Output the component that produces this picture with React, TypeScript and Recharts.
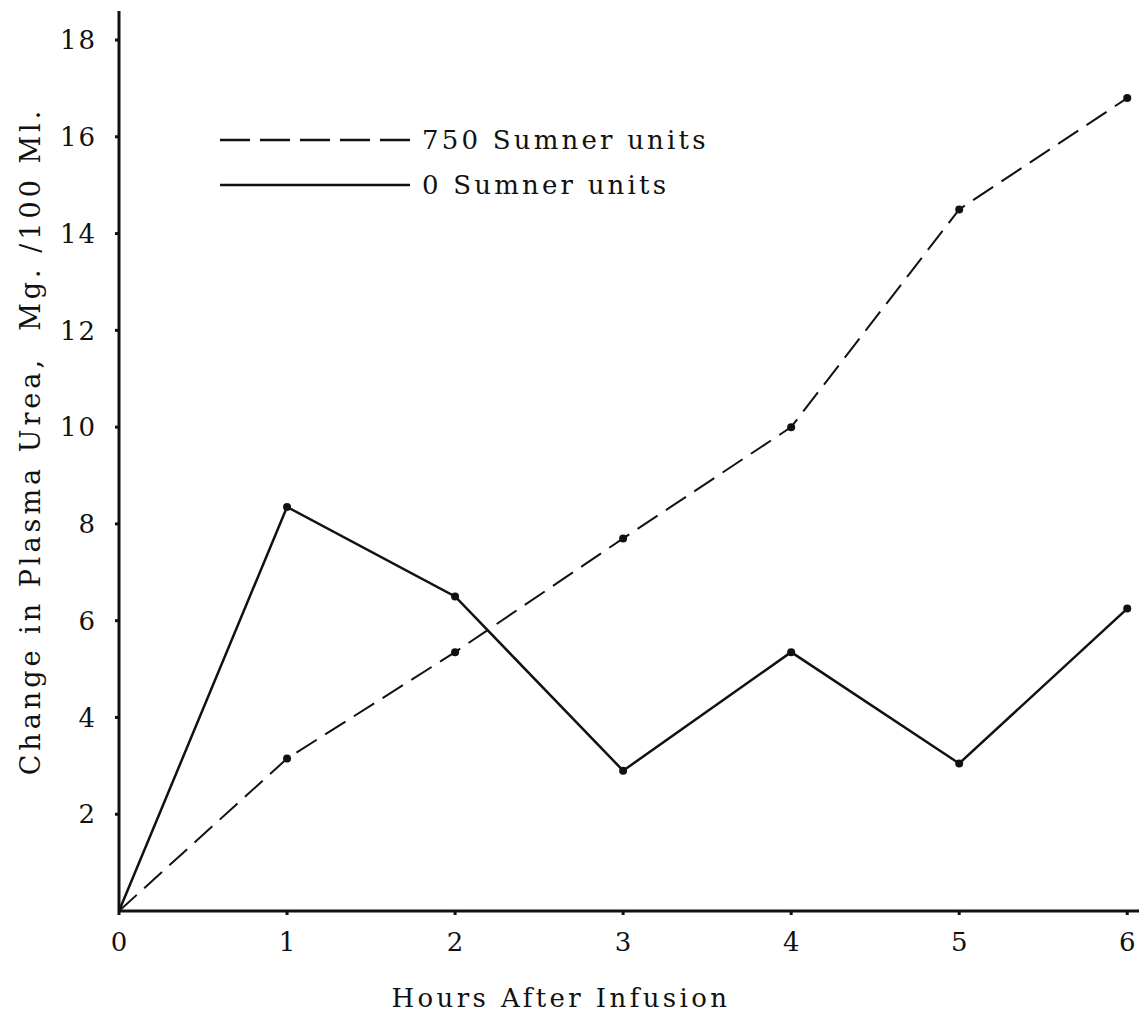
import React from 'react';
import { LineChart, Line, XAxis, YAxis, Legend, Label } from 'recharts';

const hours = [0, 1, 2, 3, 4, 5, 6];
const units750 = [0, 3.15, 5.35, 7.7, 10.0, 14.5, 16.8];
const units0 = [0, 8.35, 6.5, 2.9, 5.35, 3.05, 6.25];
const xTicks = [0, 1, 2, 3, 4, 5, 6];
const yTicks = [2, 4, 6, 8, 10, 12, 14, 16, 18];
const seriesNames = ['750 Sumner units', '0 Sumner units'];

const data = hours.map((h, i) => ({ hour: h, u750: units750[i], u0: units0[i] }));

const FONT = '"DejaVu Serif", serif';
const INK = '#111';

const Dot = (props: any) => {
  const { cx, cy, payload } = props;
  if (payload.hour === 0) return <g key={`d-${cx}`} />;
  return <circle key={`d-${cx}-${cy}`} cx={cx} cy={cy} r={4} fill={INK} />;
};

const LegendContent = () => (
  <div style={{ fontFamily: FONT, fontSize: 26, color: INK, letterSpacing: 3.2, lineHeight: 1 }}>
    <div style={{ display: 'flex', alignItems: 'center', height: 45 }}>
      <svg width={202} height={10} style={{ flex: 'none' }}>
        <line x1={0} y1={5} x2={190} y2={5} stroke={INK} strokeWidth={2.5} strokeDasharray="30 10" />
      </svg>
      <span style={{ whiteSpace: 'nowrap' }}>{seriesNames[0]}</span>
    </div>
    <div style={{ display: 'flex', alignItems: 'center', height: 45 }}>
      <svg width={202} height={10} style={{ flex: 'none' }}>
        <line x1={0} y1={5} x2={190} y2={5} stroke={INK} strokeWidth={2.5} />
      </svg>
      <span style={{ whiteSpace: 'nowrap' }}>{seriesNames[1]}</span>
    </div>
  </div>
);

const YLabel = () => (
  <text
    x={30}
    y={441}
    transform="rotate(-90, 30, 441)"
    textAnchor="middle"
    dominantBaseline="central"
    fontFamily={FONT}
    fontSize={27}
    fill={INK}
    letterSpacing={4}
    style={{ whiteSpace: 'pre' }}
  >
    {'Change in Plasma Urea,  Mg. /100 Ml.'}
  </text>
);

const XLabel = () => (
  <text
    x={561}
    y={998}
    textAnchor="middle"
    dominantBaseline="central"
    fontFamily={FONT}
    fontSize={26}
    fill={INK}
    letterSpacing={3.4}
  >
    Hours After Infusion
  </text>
);

export default function App() {
  return (
    <div style={{ position: 'absolute', left: 0, top: 0, width: 1140, height: 1015, background: '#fff' }}>
      <LineChart
        width={1140}
        height={1015}
        data={data}
        margin={{ top: 11, right: 1, bottom: 0, left: 0 }}
      >
        <XAxis
          dataKey="hour"
          type="number"
          domain={[0, 6.07]}
          ticks={xTicks}
          allowDecimals={false}
          stroke={INK}
          strokeWidth={3}
          tickSize={4}
          tickMargin={18}
          tick={{ fontFamily: FONT, fontSize: 26, fill: INK }}
          height={104}
          label={<XLabel />}
        />
        <YAxis
          type="number"
          domain={[0, 18.6]}
          ticks={yTicks}
          stroke={INK}
          strokeWidth={3}
          tickSize={4}
          tickMargin={18}
          tick={{ fontFamily: FONT, fontSize: 26, fill: INK, letterSpacing: 2 }}
          width={119}
          label={<YLabel />}
        />
        <Legend
          layout="horizontal"
          verticalAlign="middle"
          align="center"
          content={<LegendContent />}
          wrapperStyle={{ position: 'absolute', left: 220, top: 117, width: 'auto', height: 'auto' }}
        />
        <Line
          name={seriesNames[0]}
          dataKey="u750"
          stroke={INK}
          strokeWidth={2}
          strokeDasharray="24 10"
          dot={<Dot />}
          activeDot={false}
          isAnimationActive={false}
        />
        <Line
          name={seriesNames[1]}
          dataKey="u0"
          stroke={INK}
          strokeWidth={2.5}
          dot={<Dot />}
          activeDot={false}
          isAnimationActive={false}
        />
      </LineChart>
    </div>
  );
}
